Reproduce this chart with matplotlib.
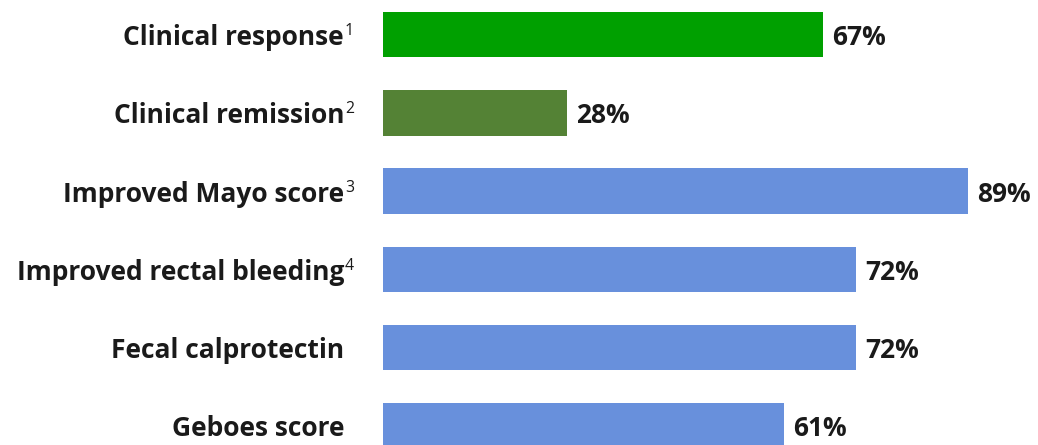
import matplotlib
matplotlib.use("Agg")
import matplotlib.pyplot as plt

categories = ["Clinical response", "Clinical remission", "Improved Mayo score",
              "Improved rectal bleeding", "Fecal calprotectin", "Geboes score"]
superscripts = ["1", "2", "3", "4", "", ""]
values = [67, 28, 89, 72, 72, 61]
value_labels = ["67%", "28%", "89%", "72%", "72%", "61%"]
colors = ["#00A000", "#548235", "#6890DC", "#6890DC", "#6890DC", "#6890DC"]

W, H = 1038, 445
fig = plt.figure(figsize=(W / 100, H / 100), dpi=100)
left_px = 383
px_per_unit = 6.573
ax = fig.add_axes([left_px / W, 0, 1 - left_px / W, 1])
ax.set_xlim(0, (W - left_px) / px_per_unit)
top_c, step = 34.5, 78.3
ax.set_ylim((H - top_c) / step, -top_c / step)
ax.axis("off")

FONT = ["Open Sans", "DejaVu Sans"]
FS = 19

ypos = list(range(len(categories)))
ax.barh(ypos, values, height=0.58, color=colors, linewidth=0)

for y, v, lab in zip(ypos, values, value_labels):
    ax.annotate(lab, xy=(v, y), xytext=(9, -3), textcoords="offset pixels",
                ha="left", va="center", fontsize=FS, fontweight="bold",
                family=FONT, color="#1a1a1a")

label_x = 344 / W
for y, cat, sup in zip(ypos, categories, superscripts):
    fy = 1 - (top_c + step * y + 3) / H
    t = fig.text(label_x, fy, cat, ha="right", va="center", fontsize=FS,
                 fontweight="bold", family=FONT, color="#1a1a1a")
    if sup:
        ax.annotate(sup, xy=(1, 1), xycoords=t, xytext=(1, 1),
                    textcoords="offset pixels", ha="left", va="top",
                    fontsize=FS * 0.6, family=FONT, color="#1a1a1a")

fig.savefig("out.png", dpi=100, facecolor="white")
